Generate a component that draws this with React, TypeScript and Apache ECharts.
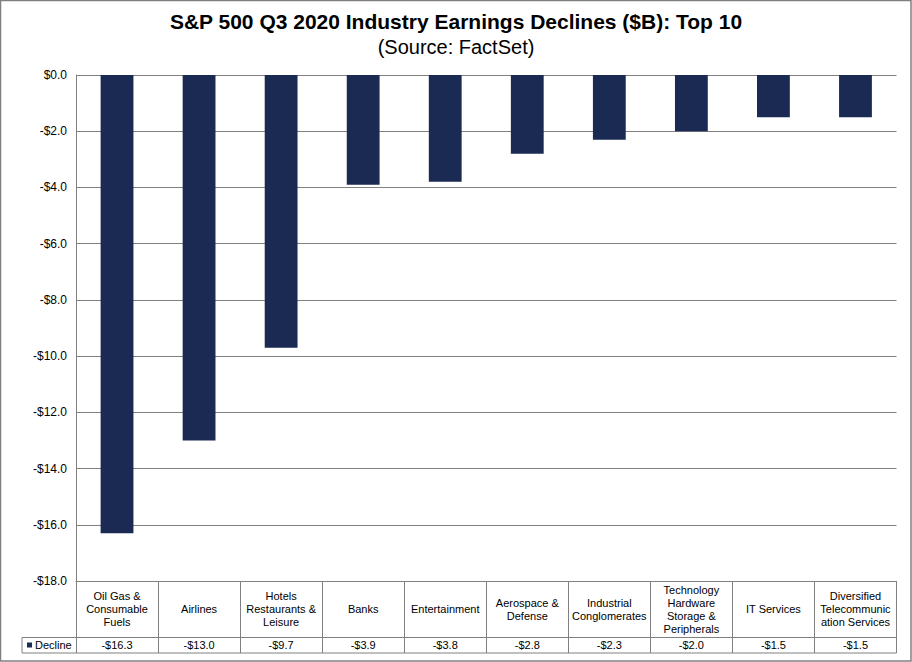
import React, { useEffect, useRef } from "react";
import * as echarts from "echarts";

const categories: string[] = [
  "Oil Gas &\nConsumable\nFuels",
  "Airlines",
  "Hotels\nRestaurants &\nLeisure",
  "Banks",
  "Entertainment",
  "Aerospace &\nDefense",
  "Industrial\nConglomerates",
  "Technology\nHardware\nStorage &\nPeripherals",
  "IT Services",
  "Diversified\nTelecommunic\nation Services",
];
const declineValues: number[] = [-16.3, -13.0, -9.7, -3.9, -3.8, -2.8, -2.3, -2.0, -1.5, -1.5];
const seriesName = "Decline";
const titleText = "S&P 500 Q3 2020 Industry Earnings Declines ($B): Top 10";
const subtitleText = "(Source: FactSet)";
const yMin = -18;
const yMax = 0;
const yStep = 2;

const fmt = (v: number) => (v === 0 ? "$0.0" : (v < 0 ? "-$" : "$") + Math.abs(v).toFixed(1));

const FONT = "'Liberation Sans', Arial, sans-serif";
const GRID_LEFT = 76;
const GRID_TOP = 75;
const GRID_RIGHT_X = 896.5;
const GRID_BOTTOM_Y = 581;
const ROW2_Y = 637.5;
const TABLE_BOTTOM_Y = 653;
const LEGEND_COL_X = 22;
const LINE = "#808080";

export default function App() {
  const ref = useRef<HTMLDivElement>(null);
  useEffect(() => {
    document.body.style.margin = "0";
    if (!ref.current) return;
    const chart = echarts.init(ref.current, undefined, { renderer: "svg" });
    chart.setOption({
      animation: false,
      backgroundColor: "#ffffff",
      textStyle: { fontFamily: FONT },
      title: [
        {
          text: titleText,
          left: "center",
          top: 3,
          textStyle: { fontFamily: FONT, fontSize: 21, fontWeight: "bold", color: "#000", lineHeight: 26 },
        },
        {
          text: subtitleText,
          left: "center",
          top: 30,
          textStyle: { fontFamily: FONT, fontSize: 20, fontWeight: "normal", color: "#000", lineHeight: 24 },
        },
      ],
      legend: {
        data: [seriesName],
        left: 22,
        top: 634,
        icon: "rect",
        itemWidth: 5,
        itemHeight: 5,
        itemGap: 4,
        textStyle: { fontFamily: FONT, fontSize: 11, color: "#000", lineHeight: 12, padding: [0, 0, 0, -2] },
      },
      grid: {
        left: GRID_LEFT,
        top: GRID_TOP,
        right: 912 - GRID_RIGHT_X,
        bottom: 662 - GRID_BOTTOM_Y,
        containLabel: false,
      },
      xAxis: [
        {
          type: "category",
          data: categories,
          position: "bottom",
          boundaryGap: true,
          axisLine: { show: true, onZero: false, lineStyle: { color: LINE, width: 1 } },
          axisTick: { show: true, interval: 0, length: TABLE_BOTTOM_Y - GRID_BOTTOM_Y, lineStyle: { color: LINE, width: 1 } },
          axisLabel: {
            interval: 0,
            fontFamily: FONT,
            fontSize: 11,
            lineHeight: 13,
            color: "#000",
            margin: 28,
            verticalAlign: "middle",
            align: "center",
          },
          splitLine: { show: false },
        },
        {
          type: "category",
          data: categories,
          position: "bottom",
          boundaryGap: true,
          axisLine: { show: false, onZero: false },
          axisTick: { show: false },
          axisLabel: {
            interval: 0,
            fontFamily: FONT,
            fontSize: 11,
            color: "#000",
            margin: 64,
            verticalAlign: "middle",
            formatter: (_v: string, i: number) => fmt(declineValues[i]),
          },
          splitLine: { show: false },
        },
      ],
      yAxis: {
        type: "value",
        min: yMin,
        max: yMax,
        interval: yStep,
        axisLine: { show: true, lineStyle: { color: LINE, width: 1 } },
        axisTick: { show: false },
        axisLabel: { fontFamily: FONT, fontSize: 12, color: "#000", margin: 9, formatter: (v: number) => fmt(v) },
        splitLine: { show: true, lineStyle: { color: LINE, width: 1 } },
      },
      series: [
        {
          name: seriesName,
          type: "bar",
          xAxisIndex: 0,
          data: declineValues,
          barWidth: "40%",
          itemStyle: { color: "#1b2a52" },
        },
      ],
      graphic: [
        {
          type: "rect",
          shape: { x: 0.5, y: 0.5, width: 910.5, height: 660.5 },
          style: { fill: "none", stroke: LINE, lineWidth: 1.5 },
          silent: true,
        },
        {
          type: "line",
          shape: { x1: LEGEND_COL_X, y1: ROW2_Y, x2: GRID_RIGHT_X, y2: ROW2_Y },
          style: { stroke: LINE, lineWidth: 1 },
          silent: true,
        },
        {
          type: "line",
          shape: { x1: LEGEND_COL_X, y1: TABLE_BOTTOM_Y, x2: GRID_RIGHT_X, y2: TABLE_BOTTOM_Y },
          style: { stroke: LINE, lineWidth: 1 },
          silent: true,
        },
        {
          type: "line",
          shape: { x1: LEGEND_COL_X, y1: ROW2_Y, x2: LEGEND_COL_X, y2: TABLE_BOTTOM_Y },
          style: { stroke: LINE, lineWidth: 1 },
          silent: true,
        },
      ],
    });
    return () => chart.dispose();
  }, []);
  return <div ref={ref} style={{ width: 912, height: 662 }} />;
}
